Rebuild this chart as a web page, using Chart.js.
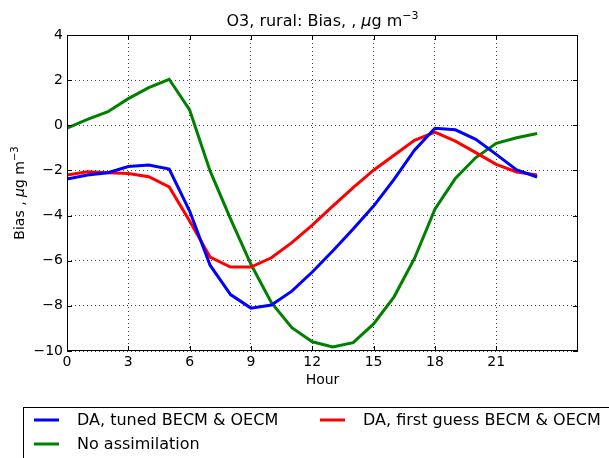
<!DOCTYPE html>
<html>
<head>
<meta charset="utf-8">
<script src="https://cdn.jsdelivr.net/npm/chart.js@4"></script>
<style>
  body { margin: 0; background: #fff; }
  #wrap { width: 609px; height: 458px; }
</style>
</head>
<body>
<div id="wrap"><canvas id="bias-chart" width="609" height="458"></canvas></div>
<script>
const hours = [0, 1, 2, 3, 4, 5, 6, 7, 8, 9, 10, 11, 12, 13, 14, 15, 16, 17, 18, 19, 20, 21, 22, 23];
const tunedBias = [-2.38, -2.2, -2.1, -1.83, -1.76, -1.94, -3.8, -6.2, -7.5, -8.1, -7.96, -7.35, -6.5, -5.57, -4.6, -3.58, -2.4, -1.1, -0.13, -0.2, -0.62, -1.29, -1.98, -2.29];
const firstGuessBias = [-2.2, -2.06, -2.1, -2.14, -2.28, -2.73, -4.24, -5.84, -6.28, -6.28, -5.87, -5.2, -4.42, -3.58, -2.76, -1.99, -1.33, -0.67, -0.3, -0.7, -1.21, -1.73, -2.07, -2.2];
const noAssimBias = [-0.13, 0.26, 0.6, 1.18, 1.67, 2.04, 0.68, -2.02, -4.15, -6.16, -7.86, -8.97, -9.59, -9.82, -9.63, -8.8, -7.6, -5.9, -3.72, -2.35, -1.43, -0.8, -0.55, -0.36];
const xTicks = [0, 3, 6, 9, 12, 15, 18, 21];
const yTicks = [-10, -8, -6, -4, -2, 0, 2, 4];

const FONT = '"DejaVu Sans", sans-serif';

function pts(vals) {
  return hours.map((h, i) => ({ x: h, y: vals[i] }));
}

// draws "<pre>μg m^-3" in pieces, left to right
function unitText(ctx, pre, x, y, size, align) {
  const parts = [
    { t: pre, f: size + 'px ' + FONT, dy: 0 },
    { t: '\u03bc', f: 'italic ' + size + 'px ' + FONT, dy: 0 },
    { t: 'g m', f: size + 'px ' + FONT, dy: 0 },
    { t: '\u22123', f: Math.round(size * 0.7) + 'px ' + FONT, dy: -size * 0.45 }
  ];
  let w = 0;
  parts.forEach(p => { ctx.font = p.f; p.w = ctx.measureText(p.t).width; w += p.w; });
  let cx = align === 'center' ? x - w / 2 : x;
  ctx.textAlign = 'left';
  parts.forEach(p => { ctx.font = p.f; ctx.fillText(p.t, cx, y + p.dy); cx += p.w; });
}

// frame, titles and matplotlib-like legend
const decor = {
  id: 'decor',
  afterDraw(chart) {
    const ctx = chart.ctx;
    const a = chart.chartArea;
    ctx.save();
    ctx.strokeStyle = '#000';
    ctx.lineWidth = 1;
    ctx.strokeRect(a.left + 0.5, a.top + 0.5, a.right - a.left - 1, a.bottom - a.top - 1);

    // inward ticks
    const xs = chart.scales.x, ys = chart.scales.y;
    ctx.beginPath();
    xTicks.forEach(t => {
      const px = Math.round(xs.getPixelForValue(t)) + 0.5;
      ctx.moveTo(px, a.bottom); ctx.lineTo(px, a.bottom - 5);
      ctx.moveTo(px, a.top); ctx.lineTo(px, a.top + 5);
    });
    yTicks.forEach(t => {
      const py = Math.round(ys.getPixelForValue(t)) + 0.5;
      ctx.moveTo(a.left, py); ctx.lineTo(a.left + 5, py);
      ctx.moveTo(a.right, py); ctx.lineTo(a.right - 5, py);
    });
    ctx.stroke();

    ctx.fillStyle = '#000';
    ctx.textBaseline = 'alphabetic';
    const cx = (a.left + a.right) / 2;
    unitText(ctx, 'O3, rural: Bias, , ', cx, 26, 16, 'center');
    ctx.textAlign = 'center';
    ctx.textBaseline = 'middle';
    ctx.font = '14px ' + FONT;
    ctx.fillText('Hour', cx, 380);

    ctx.save();
    ctx.translate(24, (a.top + a.bottom) / 2);
    ctx.rotate(-Math.PI / 2);
    ctx.textBaseline = 'alphabetic';
    unitText(ctx, 'Bias , ', 0, 0, 14, 'center');
    ctx.restore();

    // legend
    ctx.strokeStyle = '#000';
    ctx.lineWidth = 1;
    ctx.strokeRect(23.5, 407.5, 620, 70);
    const items = chart.data.datasets;
    const slots = [[34, 420], [320, 420], [34, 444]];
    ctx.font = '16px ' + FONT;
    ctx.textAlign = 'left';
    ctx.textBaseline = 'middle';
    items.forEach((ds, i) => {
      const [lx, ly] = slots[i];
      ctx.strokeStyle = ds.borderColor;
      ctx.lineWidth = 3;
      ctx.beginPath();
      ctx.moveTo(lx, ly); ctx.lineTo(lx + 25, ly);
      ctx.stroke();
      ctx.fillStyle = '#000';
      ctx.fillText(ds.label, lx + 43, ly + 1);
    });
    ctx.restore();
  }
};

const ctx = document.getElementById('bias-chart').getContext('2d');
const chart = new Chart(ctx, {
  type: 'line',
  data: {
    datasets: [
      { label: 'DA, tuned BECM & OECM', data: pts(tunedBias), borderColor: '#0000ff' },
      { label: 'DA, first guess BECM & OECM', data: pts(firstGuessBias), borderColor: '#ff0000' },
      { label: 'No assimilation', data: pts(noAssimBias), borderColor: '#008000' }
    ]
  },
  options: {
    responsive: false,
    animation: false,
    layout: { padding: { top: 35, right: 31, left: 0, bottom: 0 } },
    elements: {
      line: { borderWidth: 3, tension: 0, fill: false },
      point: { radius: 0 }
    },
    plugins: {
      legend: { display: false },
      title: { display: false },
      tooltip: { enabled: false }
    },
    scales: {
      x: {
        type: 'linear',
        min: 0,
        max: 25,
        afterBuildTicks: s => { s.ticks = xTicks.map(v => ({ value: v })); },
        afterFit: s => { s.height = 107; },
        border: { display: false, dash: [1, 3] },
        grid: { color: 'rgba(0,0,0,0.75)', drawTicks: false, lineWidth: 1 },
        ticks: { color: '#000', padding: 3, font: { family: FONT, size: 14 } }
      },
      y: {
        min: -10,
        max: 4,
        afterBuildTicks: s => { s.ticks = yTicks.map(v => ({ value: v })); },
        afterFit: s => { s.width = 67; },
        border: { display: false, dash: [1, 3] },
        grid: { color: 'rgba(0,0,0,0.75)', drawTicks: false, lineWidth: 1 },
        ticks: {
          color: '#000', padding: 4, font: { family: FONT, size: 14 },
          callback: v => String(v).replace('-', '\u2212')
        }
      }
    }
  },
  plugins: [decor]
});
</script>
</body>
</html>
